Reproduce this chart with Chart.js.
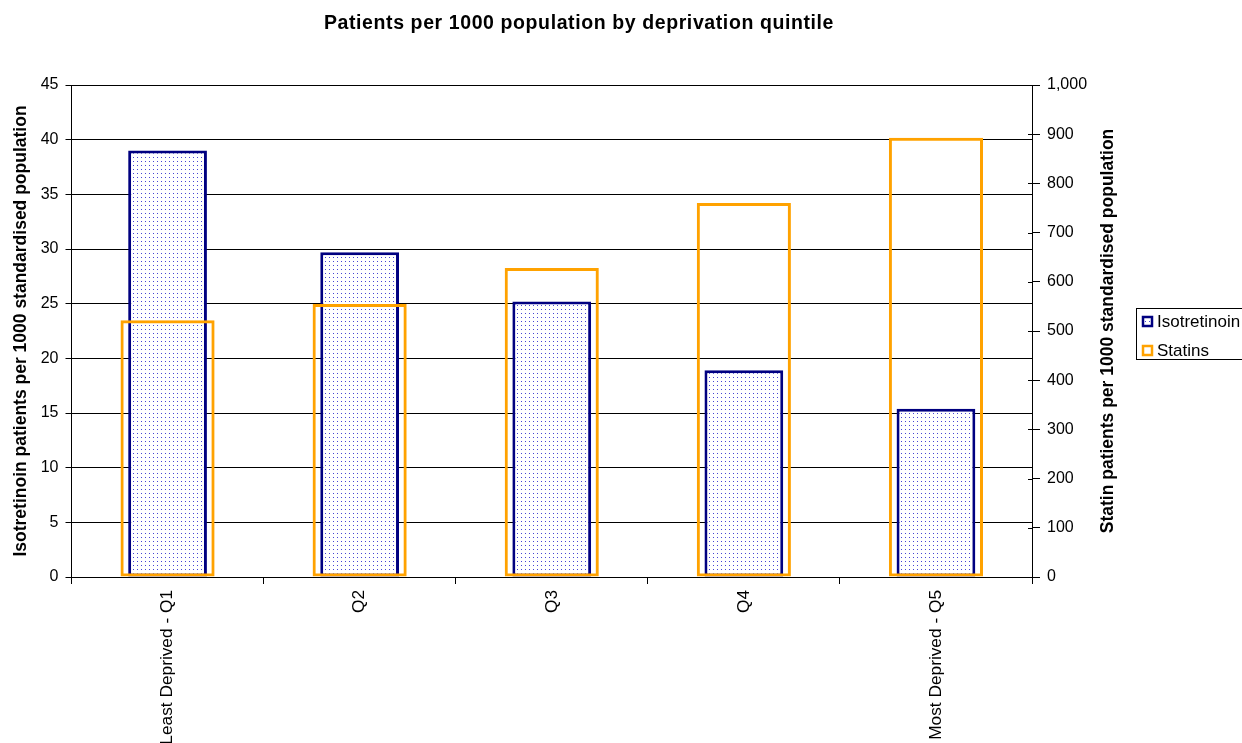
<!DOCTYPE html>
<html><head><meta charset="utf-8">
<script src="https://cdn.jsdelivr.net/npm/chart.js@4.4.1/dist/chart.umd.min.js"></script>
<style>html,body{margin:0;padding:0;background:#fff;overflow:hidden}#wrap{width:1242px;height:743px;position:relative}</style>
</head><body><div id="wrap"><canvas id="c"></canvas></div>
<script>
const chartTitle = 'Patients per 1000 population by deprivation quintile';
const categories = ['Least Deprived - Q1', 'Q2', 'Q3', 'Q4', 'Most Deprived - Q5'];
const isotretinoin = [39.0, 29.7, 25.2, 18.9, 15.4];
const statins = [522, 555, 628, 760, 893];
const seriesNames = ['Isotretinoin', 'Statins'];
const leftTitle = 'Isotretinoin patients per 1000 standardised population';
const rightTitle = 'Statin patients per 1000 standardised population';
const leftRange = [0, 45, 5];
const rightRange = [0, 1000, 100];

const FONT = '"Liberation Sans", Arial, sans-serif';
Chart.defaults.font.family = FONT;
Chart.defaults.color = '#000';

const canvas = document.getElementById('c');
const ctx0 = canvas.getContext('2d');
function makePattern() {
  const p = document.createElement('canvas');
  p.width = 4; p.height = 4;
  const g = p.getContext('2d');
  g.fillStyle = '#ffffff'; g.fillRect(0, 0, 4, 4);
  g.fillStyle = '#4646d4'; g.fillRect(1, 1, 1, 1);
  return ctx0.createPattern(p, 'repeat');
}
const dotPattern = makePattern();
const NAVY = '#000080';
const ORANGE = '#FFA200';

const decor = {
  id: 'decor',
  afterDraw(chart) {
    const ctx = chart.ctx;
    const ca = chart.chartArea;
    ctx.save();
    ctx.fillStyle = '#000';
    ctx.font = 'bold 19.5px ' + FONT;
    ctx.letterSpacing = '0.6px';
    ctx.textAlign = 'center';
    ctx.textBaseline = 'alphabetic';
    ctx.fillText(chartTitle, 579, 28.5);
    ctx.restore();

    ctx.save();
    ctx.fillStyle = '#000';
    ctx.font = 'bold 17.5px ' + FONT;
    ctx.textAlign = 'center';
    ctx.textBaseline = 'middle';
    ctx.translate(1108, (ca.top + ca.bottom) / 2);
    ctx.rotate(-Math.PI / 2);
    ctx.fillText(rightTitle, 0, 0);
    ctx.restore();

    // inner tick marks on right axis
    const yR = chart.scales.yR;
    ctx.save();
    ctx.strokeStyle = '#000';
    ctx.lineWidth = 1;
    yR.ticks.forEach(t => {
      const y = Math.round(yR.getPixelForValue(t.value)) + 0.5;
      ctx.beginPath();
      ctx.moveTo(ca.right - 4, y);
      ctx.lineTo(ca.right, y);
      ctx.stroke();
    });
    ctx.restore();

    // legend
    ctx.save();
    ctx.strokeStyle = '#000';
    ctx.lineWidth = 1;
    ctx.strokeRect(1136.5, 308.5, 140, 51);
    const ds = chart.data.datasets;
    const rows = [321.5, 350.5];
    ds.forEach((d, i) => {
      const y = rows[i];
      ctx.fillStyle = d.backgroundColor === 'rgba(0,0,0,0)' ? '#fff' : d.backgroundColor;
      ctx.fillRect(1142, y - 5.5, 11, 11);
      ctx.strokeStyle = d.borderColor;
      ctx.lineWidth = 2.5;
      ctx.strokeRect(1143, y - 4.5, 9, 9);
      ctx.fillStyle = '#000';
      ctx.font = '17px ' + FONT;
      ctx.textAlign = 'left';
      ctx.textBaseline = 'middle';
      ctx.fillText(d.label, 1157, y + 1);
    });
    ctx.restore();
  }
};

new Chart(canvas, {
  type: 'bar',
  data: {
    labels: categories,
    datasets: [
      {
        label: seriesNames[0], data: isotretinoin, yAxisID: 'y',
        backgroundColor: dotPattern, borderColor: NAVY, borderWidth: 3,
        borderSkipped: false, barPercentage: 0.41, categoryPercentage: 1,
        grouped: false, order: 2
      },
      {
        label: seriesNames[1], data: statins, yAxisID: 'yR',
        backgroundColor: 'rgba(0,0,0,0)', borderColor: ORANGE, borderWidth: 3,
        borderSkipped: false, barPercentage: 0.49, categoryPercentage: 1,
        grouped: false, order: 1
      }
    ]
  },
  options: {
    responsive: true,
    maintainAspectRatio: false,
    devicePixelRatio: 1,
    animation: false,
    layout: { padding: { top: 85, left: 0, right: 120, bottom: 0 } },
    plugins: { legend: { display: false }, title: { display: false }, tooltip: { enabled: false } },
    scales: {
      x: {
        offset: true,
        grid: { offset: true, drawOnChartArea: false, tickLength: 7, color: '#000' },
        border: { color: '#000', width: 1 },
        ticks: { minRotation: 90, maxRotation: 90, autoSkip: false, padding: 6, color: '#000', font: { size: 17.3 } },
        afterFit(s) { s.height = 166; }
      },
      y: {
        position: 'left', min: leftRange[0], max: leftRange[1],
        ticks: { stepSize: leftRange[2], padding: 7, color: '#000', font: { size: 16 } },
        grid: { color: '#000', tickLength: 6 },
        border: { color: '#000', width: 1 },
        title: { display: true, text: leftTitle, color: '#000', font: { size: 17.5, weight: 'bold' }, padding: { top: 11, bottom: 0 } },
        afterFit(s) { s.width = 71.5; }
      },
      yR: {
        position: 'right', min: rightRange[0], max: rightRange[1],
        ticks: { stepSize: rightRange[2], padding: 7, color: '#000', font: { size: 16 } },
        grid: { drawOnChartArea: false, color: '#000', tickLength: 8 },
        border: { color: '#000', width: 1 },
        afterFit(s) { s.width = 90; }
      }
    }
  },
  plugins: [decor]
});
</script>
</body></html>
